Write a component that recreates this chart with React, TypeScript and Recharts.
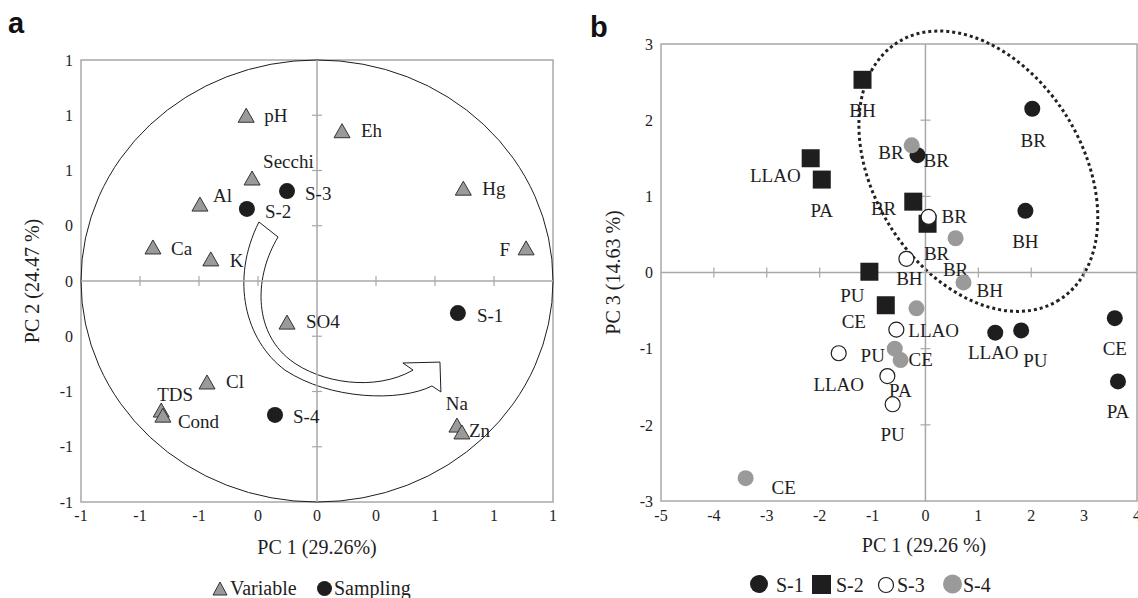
import React from 'react';
import {
  ScatterChart,
  Scatter,
  XAxis,
  YAxis,
  ReferenceArea,
  ReferenceLine,
  ReferenceDot,
} from 'recharts';

const SERIF = '"Liberation Serif", "Times New Roman", serif';
const INK = '#1e1e1e';
const AXIS_GREY = '#a8a8a8';
const MARK_GREY = '#9a9a9a';

// ---- panel a: loadings (variables) and scores (sampling) on PC1 / PC2
const variableNames = ['pH', 'Secchi', 'Al', 'Ca', 'K', 'Eh', 'Hg', 'F', 'SO4', 'Cl', 'TDS', 'Cond', 'Na', 'Zn'];
const variablePc1 = [-0.3, -0.275, -0.496, -0.695, -0.45, 0.106, 0.62, 0.886, -0.127, -0.466, -0.66, -0.653, 0.593, 0.614];
const variablePc2 = [0.75, 0.466, 0.348, 0.154, 0.1, 0.68, 0.42, 0.15, -0.186, -0.457, -0.584, -0.607, -0.652, -0.683];

const samplingNames = ['S-1', 'S-2', 'S-3', 'S-4'];
const samplingPc1 = [0.597, -0.297, -0.127, -0.178];
const samplingPc2 = [-0.145, 0.326, 0.407, -0.606];

const loadingTicks = [-1, -0.75, -0.5, -0.25, 0, 0.25, 0.5, 0.75, 1];

// ---- panel b: scores on PC1 / PC3 by sampling campaign
const s1Sites = ['BR', 'BR', 'BH', 'LLAO', 'PU', 'CE', 'PA'];
const s1Pc1 = [2.02, -0.15, 1.89, 1.32, 1.81, 3.58, 3.64];
const s1Pc3 = [2.15, 1.54, 0.81, -0.79, -0.76, -0.6, -1.43];

const s2Sites = ['BH', 'LLAO', 'PA', 'BR', 'BR', 'PU', 'CE'];
const s2Pc1 = [-1.19, -2.17, -1.96, -0.23, 0.04, -1.06, -0.75];
const s2Pc3 = [2.53, 1.5, 1.22, 0.93, 0.64, 0.01, -0.43];

const s3Sites = ['BR', 'BH', 'LLAO', 'LLAO', 'PA', 'PU'];
const s3Pc1 = [0.06, -0.36, -0.55, -1.64, -0.72, -0.62];
const s3Pc3 = [0.73, 0.18, -0.75, -1.06, -1.36, -1.73];

const s4Sites = ['BR', 'BR', 'BH', '', 'PU', 'CE', 'CE'];
const s4Pc1 = [-0.26, 0.57, 0.72, -0.17, -0.58, -0.47, -3.4];
const s4Pc3 = [1.67, 0.45, -0.13, -0.47, -1.0, -1.15, -2.7];

const pc1Ticks = [-5, -4, -3, -2, -1, 0, 1, 2, 3, 4];
const pc3Ticks = [-3, -2, -1, 0, 1, 2, 3];

// ---- label placement (pixel offset from marker centre to text baseline)
type Anchor = 'start' | 'middle' | 'end';
type Place = [number, number, Anchor];

const variablePlace: Place[] = [
  [18, 7, 'start'], [11, -10, 'start'], [13, -2, 'start'], [18, 8, 'start'], [19, 8, 'start'],
  [19, 6, 'start'], [19, 7, 'start'], [-16, 8, 'end'], [19, 6, 'start'], [19, 6, 'start'],
  [-4, -9, 'start'], [15, 13, 'start'], [0, -15, 'middle'], [7, 5, 'start'],
];
const samplingPlace: Place[] = [[19, 9, 'start'], [18, 9, 'start'], [18, 9, 'start'], [18, 8, 'start']];

const s1Place: Place[] = [
  [1, 38, 'middle'], [6, 12, 'start'], [0, 37, 'middle'], [-2, 26, 'middle'],
  [2, 37, 'start'], [0, 37, 'middle'], [0, 37, 'middle'],
];
const s2Place: Place[] = [
  [0, 37, 'middle'], [-10, 24, 'end'], [0, 37, 'middle'], [-17, 13, 'end'],
  [9, 36, 'middle'], [-17, 30, 'middle'], [-32, 23, 'middle'],
];
const s3Place: Place[] = [
  [13, 6, 'start'], [3, 26, 'middle'], [12, 7, 'start'], [0, 38, 'middle'], [13, 21, 'middle'], [0, 37, 'middle'],
];
const s4Place: Place[] = [
  [-8, 14, 'end'], [0, 38, 'middle'], [13, 15, 'start'], [0, 0, 'start'],
  [-22, 13, 'middle'], [8, 6, 'start'], [26, 16, 'start'],
];

type Row = { x: number; y: number; name: string; place: Place };
const rows = (names: string[], xs: number[], ys: number[], place: Place[]): Row[] =>
  names.map((name, i) => ({ x: xs[i], y: ys[i], name, place: place[i] }));

// ---- annotations (data units)
const arrowPath: [string, number[]][] = [
  ['M', [-0.246, 0.267]],
  ['L', [-0.165, 0.199]],
  ['C', [-0.263, 0.027, -0.275, -0.222, -0.114, -0.357]],
  ['C', [0.013, -0.462, 0.246, -0.502, 0.407, -0.403]],
  ['L', [0.364, -0.371]],
  ['L', [0.521, -0.367]],
  ['L', [0.525, -0.502]],
  ['L', [0.487, -0.475]],
  ['C', [0.352, -0.548, 0.055, -0.538, -0.136, -0.403]],
  ['C', [-0.305, -0.267, -0.369, 0.005, -0.246, 0.267]],
];
const clusterCentre = [1.0, 1.33];

type Kind = 'triangle' | 'circle' | 'square' | 'ring';

function markerShape(kind: Kind, fill: string, fontSize = 19) {
  return (props: any) => {
    const { cx, cy, payload } = props;
    if (cx == null || cy == null) return <g />;
    let mark: React.ReactNode;
    if (kind === 'triangle') {
      mark = (
        <polygon
          points={`${cx},${cy - 7} ${cx + 8},${cy + 7} ${cx - 8},${cy + 7}`}
          fill={fill}
          stroke="#333"
          strokeWidth={1}
        />
      );
    } else if (kind === 'square') {
      mark = <rect x={cx - 9} y={cy - 9} width={18} height={18} fill={fill} />;
    } else if (kind === 'ring') {
      mark = <circle cx={cx} cy={cy} r={7.5} fill="#fff" stroke={INK} strokeWidth={1.2} />;
    } else {
      mark = <circle cx={cx} cy={cy} r={8} fill={fill} />;
    }
    const [dx, dy, anchor] = payload.place as Place;
    return (
      <g>
        {mark}
        {payload.name ? (
          <text x={cx + dx} y={cy + dy} textAnchor={anchor} fontFamily={SERIF} fontSize={fontSize} fill={INK}>
            {payload.name}
          </text>
        ) : null}
      </g>
    );
  };
}

// excel-like integer rounding of the tick labels
const roundLabel = (v: number) => String(Math.sign(v) * Math.round(Math.abs(v)));

const tickStyle = { fontFamily: SERIF, fontSize: 16, fill: INK };

function crossTick(vertical: boolean) {
  return (p: any) =>
    vertical ? (
      <line x1={p.cx} x2={p.cx} y1={p.cy - 5} y2={p.cy + 5} stroke={AXIS_GREY} strokeWidth={1.2} />
    ) : (
      <line x1={p.cx - 5} x2={p.cx + 5} y1={p.cy} y2={p.cy} stroke={AXIS_GREY} strokeWidth={1.2} />
    );
}

function PanelA() {
  const variables = rows(variableNames, variablePc1, variablePc2, variablePlace);
  const sampling = rows(samplingNames, samplingPc1, samplingPc2, samplingPlace);

  const frame = (p: any) => (
    <g>
      <rect x={p.x} y={p.y} width={p.width} height={p.height} fill="none" stroke={AXIS_GREY} strokeWidth={1.5} />
      <ellipse
        cx={p.x + p.width / 2}
        cy={p.y + p.height / 2}
        rx={p.width / 2}
        ry={p.height / 2}
        fill="none"
        stroke={INK}
        strokeWidth={1}
      />
    </g>
  );

  const arrow = (p: any) => {
    const px = (v: number) => p.x + ((v + 1) / 2) * p.width;
    const py = (v: number) => p.y + ((1 - v) / 2) * p.height;
    const d = arrowPath
      .map(([cmd, nums]) => {
        const pts: string[] = [];
        for (let i = 0; i < nums.length; i += 2) pts.push(`${px(nums[i])},${py(nums[i + 1])}`);
        return cmd + pts.join(' ');
      })
      .join(' ') + ' Z';
    return <path d={d} fill="#fff" stroke={INK} strokeWidth={1} strokeLinejoin="miter" />;
  };

  return (
    <ScatterChart width={570} height={598} margin={{ top: 60, right: 17, bottom: 66, left: 21 }}>
      <XAxis
        type="number"
        dataKey="x"
        domain={[-1, 1]}
        ticks={loadingTicks}
        interval={0}
        tickFormatter={roundLabel}
        axisLine={false}
        tickLine={false}
        tick={tickStyle}
        height={30}
        label={{ value: 'PC 1 (29.26%)', position: 'bottom', offset: 8, fontFamily: SERIF, fontSize: 20, fill: INK }}
      />
      <YAxis
        type="number"
        dataKey="y"
        domain={[-1, 1]}
        ticks={loadingTicks}
        interval={0}
        tickFormatter={roundLabel}
        axisLine={false}
        tickLine={false}
        tick={tickStyle}
        width={60}
        label={{
          value: 'PC 2 (24.47 %)',
          angle: -90,
          position: 'insideLeft',
          offset: 11,
          fontFamily: SERIF,
          fontSize: 20,
          fill: INK,
          style: { textAnchor: 'middle' },
        }}
      />
      <ReferenceArea x1={-1} x2={1} y1={-1} y2={1} shape={frame} />
      <ReferenceLine x={0} stroke={AXIS_GREY} strokeWidth={1.5} />
      <ReferenceLine y={0} stroke={AXIS_GREY} strokeWidth={1.5} />
      {loadingTicks
        .filter((t) => t !== 0 && Math.abs(t) !== 1)
        .map((t) => (
          <ReferenceDot key={`xt${t}`} x={t} y={0} r={1} shape={crossTick(true)} />
        ))}
      {loadingTicks
        .filter((t) => t !== 0 && Math.abs(t) !== 1)
        .map((t) => (
          <ReferenceDot key={`yt${t}`} x={0} y={t} r={1} shape={crossTick(false)} />
        ))}
      <ReferenceArea x1={-1} x2={1} y1={-1} y2={1} shape={arrow} />
      <Scatter name="Variable" data={variables} shape={markerShape('triangle', MARK_GREY)} isAnimationActive={false} />
      <Scatter name="Sampling" data={sampling} shape={markerShape('circle', INK)} isAnimationActive={false} />
    </ScatterChart>
  );
}

function PanelB() {
  const frame = (p: any) => (
    <rect x={p.x} y={p.y} width={p.width} height={p.height} fill="none" stroke={AXIS_GREY} strokeWidth={1.5} />
  );
  const cluster = (p: any) => {
    const cx = p.x + ((clusterCentre[0] + 5) / 9) * p.width;
    const cy = p.y + ((3 - clusterCentre[1]) / 6) * p.height;
    return (
      <ellipse
        cx={cx}
        cy={cy}
        rx={152}
        ry={104}
        transform={`rotate(58 ${cx} ${cy})`}
        fill="none"
        stroke="#222"
        strokeWidth={3}
        strokeDasharray="3 3"
      />
    );
  };

  return (
    <ScatterChart width={568} height={598} margin={{ top: 44, right: 1, bottom: 67, left: 31 }}>
      <XAxis
        type="number"
        dataKey="x"
        domain={[-5, 4]}
        ticks={pc1Ticks}
        interval={0}
        axisLine={false}
        tickLine={false}
        tick={tickStyle}
        tickMargin={3}
        height={30}
        label={{ value: 'PC 1 (29.26 %)', position: 'bottom', offset: 7, dx: 25, fontFamily: SERIF, fontSize: 20, fill: INK }}
      />
      <YAxis
        type="number"
        dataKey="y"
        domain={[-3, 3]}
        ticks={pc3Ticks}
        interval={0}
        axisLine={false}
        tickLine={false}
        tick={tickStyle}
        width={60}
        label={{
          value: 'PC 3 (14.63 %)',
          angle: -90,
          position: 'insideLeft',
          offset: 12,
          fontFamily: SERIF,
          fontSize: 20,
          fill: INK,
          style: { textAnchor: 'middle' },
        }}
      />
      <ReferenceArea x1={-5} x2={4} y1={-3} y2={3} shape={frame} />
      <ReferenceLine x={0} stroke={AXIS_GREY} strokeWidth={1.5} />
      <ReferenceLine y={0} stroke={AXIS_GREY} strokeWidth={1.5} />
      {pc1Ticks
        .filter((t) => t !== 0 && t !== -5 && t !== 4)
        .map((t) => (
          <ReferenceDot key={`xt${t}`} x={t} y={0} r={1} shape={crossTick(true)} />
        ))}
      {pc3Ticks
        .filter((t) => t !== 0 && Math.abs(t) !== 3)
        .map((t) => (
          <ReferenceDot key={`yt${t}`} x={0} y={t} r={1} shape={crossTick(false)} />
        ))}
      <Scatter name="S-1" data={rows(s1Sites, s1Pc1, s1Pc3, s1Place)} shape={markerShape('circle', INK)} isAnimationActive={false} />
      <Scatter name="S-2" data={rows(s2Sites, s2Pc1, s2Pc3, s2Place)} shape={markerShape('square', INK)} isAnimationActive={false} />
      <Scatter name="S-3" data={rows(s3Sites, s3Pc1, s3Pc3, s3Place)} shape={markerShape('ring', '#fff')} isAnimationActive={false} />
      <Scatter name="S-4" data={rows(s4Sites, s4Pc1, s4Pc3, s4Place)} shape={markerShape('circle', MARK_GREY)} isAnimationActive={false} />
      <ReferenceArea x1={-5} x2={4} y1={-3} y2={3} shape={cluster} />
    </ScatterChart>
  );
}

function Overlay() {
  const text = { fontFamily: SERIF, fontSize: 20, fill: INK };
  return (
    <svg
      width={1138}
      height={598}
      style={{ position: 'absolute', left: 0, top: 0, pointerEvents: 'none' }}
    >
      <text x={8} y={33} fontFamily='"Liberation Sans", Arial, sans-serif' fontWeight="bold" fontSize={29} fill="#111">
        a
      </text>
      <text x={590} y={37} fontFamily='"Liberation Sans", Arial, sans-serif' fontWeight="bold" fontSize={29} fill="#111">
        b
      </text>

      {/* legend a */}
      <polygon points="220,582 227,595 213,595" fill={MARK_GREY} stroke="#333" strokeWidth={1} />
      <text x={230} y={595} {...text}>Variable</text>
      <circle cx={324.5} cy={588.5} r={7.5} fill={INK} />
      <text x={334} y={595} {...text}>Sampling</text>

      {/* legend b */}
      <circle cx={759} cy={584} r={9} fill={INK} />
      <text x={776} y={592} {...text}>S-1</text>
      <rect x={812} y={575} width={19} height={19} fill={INK} />
      <text x={836} y={592} {...text}>S-2</text>
      <circle cx={886} cy={585} r={7.5} fill="#fff" stroke={INK} strokeWidth={1.2} />
      <text x={897} y={592} {...text}>S-3</text>
      <circle cx={952.5} cy={584} r={9.5} fill={MARK_GREY} />
      <text x={963} y={592} {...text}>S-4</text>
    </svg>
  );
}

export default function App() {
  return (
    <div style={{ position: 'absolute', left: 0, top: 0, width: 1138, height: 598, background: '#fff' }}>
      <div style={{ position: 'absolute', left: 0, top: 0 }}>
        <PanelA />
      </div>
      <div style={{ position: 'absolute', left: 570, top: 0 }}>
        <PanelB />
      </div>
      <Overlay />
    </div>
  );
}
